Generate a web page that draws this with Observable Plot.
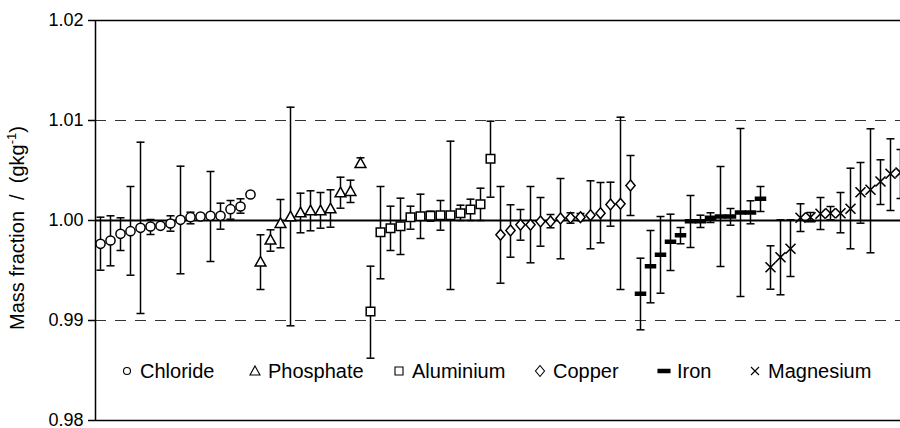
<!DOCTYPE html>
<html><head><meta charset="utf-8">
<script src="https://cdn.jsdelivr.net/npm/d3@7"></script>
<script src="https://cdn.jsdelivr.net/npm/@observablehq/plot@0.6"></script>
<style>
body{margin:0;background:#fff;}
#chart{width:900px;height:428px;}
</style></head><body><div id="chart"></div>
<script>
// ---- data (mass fraction, g/kg) ----
const chlorideValue = [0.99767,0.9980,0.99867,0.99893,0.99927,0.9994,0.99947,0.9997,1.00007,1.00033,1.0004,1.00047,1.00047,1.00113,1.0014,1.0026];
const chlorideHigh  = [1.00033,1.00047,1.00027,1.0034,1.00783,1.0001,null,1.00047,1.00543,1.00083,null,1.0049,1.00173,1.002,1.00217,null];
const chlorideLow   = [0.99503,0.99547,0.997,0.99453,0.9907,0.9986,null,0.99893,0.99467,0.99967,null,0.9959,0.99913,1.00013,1.00073,null];

const phosphateValue = [0.9958,0.998,0.99967,1.00033,1.00073,1.00093,1.00093,1.00113,1.00273,1.00287,1.00567];
const phosphateHigh  = [0.99857,0.99907,1.0021,1.01133,1.00273,1.00297,1.0028,1.00307,1.00433,1.00403,1.00627];
const phosphateLow   = [0.9931,0.99693,0.99727,0.98947,0.99877,0.99897,0.99923,0.99933,1.00123,1.0018,1.0054];

const aluminiumValue = [0.9909,0.99883,0.99923,0.99943,1.00033,1.00043,1.00047,1.00053,1.00053,1.00073,1.0011,1.00163,1.00617];
const aluminiumHigh  = [0.99543,1.0034,1.00143,1.00223,1.00143,1.00263,1.00093,1.002,1.00793,1.00153,1.00213,1.00323,1.00993];
const aluminiumLow   = [0.98623,0.99417,0.997,0.9966,0.99913,0.9982,0.99993,0.99903,0.9931,1.0,1.0,1.0,1.00233];

const copperValue = [0.99857,0.999,0.99957,0.99957,0.9999,0.9999,1.0002,1.00027,1.00033,1.00053,1.00073,1.0016,1.00167,1.0035];
const copperHigh  = [1.0034,1.00157,1.0011,1.0034,1.0023,1.0006,1.0042,1.00077,1.0007,1.00397,1.0038,1.00383,1.01033,1.0065];
const copperLow   = [0.99373,0.99633,0.99803,0.99577,0.99743,0.99927,0.99617,0.99973,1.0,0.99717,0.99777,0.99943,0.9931,1.0005];

const ironValue = [0.99267,0.99543,0.99657,0.99787,0.99853,0.99993,0.99993,1.00027,1.0004,1.0004,1.0008,1.0008,1.00217];
const ironHigh  = [0.99623,0.999,1.0004,1.00063,0.9993,1.0025,1.00053,1.00077,1.0054,1.0012,1.0092,1.00197,1.0034];
const ironLow   = [0.98907,0.99177,0.99273,0.995,0.99767,0.9973,0.9993,0.9998,0.9954,0.99953,0.9924,0.99967,1.0009];

const magnesiumValue = [0.99533,0.99633,0.99717,1.00027,1.00033,1.00067,1.00073,1.00073,1.00117,1.00283,1.00307,1.0039,1.00467,1.0048];
const magnesiumHigh  = [0.99747,1.00007,1.00007,1.00167,1.0008,1.0023,1.0014,1.0028,1.00523,1.0058,1.00917,1.00607,1.00817,1.0071];
const magnesiumLow   = [0.99313,0.99257,0.9944,0.9989,0.99987,0.9991,1.00007,0.99877,0.99717,0.99973,0.99677,1.0016,1.001,1.0022];

const yTicks = [0.98, 0.99, 1.00, 1.01, 1.02];
const refDashed = [0.99, 1.01];
const refSolid = [1.00];

// ---- symbols ----
const sym = {
  circle:   {draw(c){ c.moveTo(4.6,0); c.arc(0,0,4.6,0,2*Math.PI); }},
  triangle: {draw(c){ c.moveTo(0,-6); c.lineTo(5.4,3.6); c.lineTo(-5.4,3.6); c.closePath(); }},
  square:   {draw(c){ c.rect(-4.3,-4.3,8.6,8.6); }},
  diamond:  {draw(c){ c.moveTo(0,-5.4); c.lineTo(4.6,0); c.lineTo(0,5.4); c.lineTo(-4.6,0); c.closePath(); }},
  dash:     {draw(c){ c.rect(-5,-1.5,10,3); }},
  times:    {draw(c){ c.moveTo(-5,-5); c.lineTo(5,5); c.moveTo(5,-5); c.lineTo(-5,5); }},
  cap:      {draw(c){ c.moveTo(-4,0); c.lineTo(4,0); }}
};

const series = [
  {name:"Chloride",  sym:"circle",   fill:"white", value:chlorideValue,  high:chlorideHigh,  low:chlorideLow},
  {name:"Phosphate", sym:"triangle", fill:"white", value:phosphateValue, high:phosphateHigh, low:phosphateLow},
  {name:"Aluminium", sym:"square",   fill:"white", value:aluminiumValue, high:aluminiumHigh, low:aluminiumLow},
  {name:"Copper",    sym:"diamond",  fill:"white", value:copperValue,    high:copperHigh,    low:copperLow},
  {name:"Iron",      sym:"dash",     fill:"black", value:ironValue,      high:ironHigh,      low:ironLow},
  {name:"Magnesium", sym:"times",    fill:"none",  value:magnesiumValue, high:magnesiumHigh, low:magnesiumLow}
];

const rows = [];
let idx = 0;
for (const s of series) {
  s.value.forEach((v, k) => rows.push({series: s.name, i: idx++, v, lo: s.low[k], hi: s.high[k]}));
}
const bars = rows.filter(d => d.hi != null);

const dotMarks = series.map(s => Plot.dot(rows.filter(d => d.series === s.name), {
  x: "i", y: "v", symbol: sym[s.sym], fill: s.fill, stroke: "black",
  strokeWidth: s.sym === "times" ? 1.6 : 1.5, clip: true
}));

const svg = Plot.plot({
  width: 900, height: 428,
  marginLeft: 95, marginRight: 0, marginTop: 20, marginBottom: 8,
  style: {fontFamily: "'Liberation Sans', Arial, sans-serif", fontSize: "18px", background: "white", color: "black"},
  x: {domain: [-0.5, 80], axis: null},
  y: {domain: [0.98, 1.02]},
  marks: [
    Plot.ruleY(refDashed, {stroke: "#333", strokeWidth: 1, strokeDasharray: "11,9"}),
    Plot.ruleY([0.98, 1.02], {stroke: "black", strokeWidth: 1.5}),
    Plot.ruleX(bars, {x: "i", y1: "lo", y2: "hi", stroke: "black", strokeWidth: 1.5, clip: true}),
    Plot.dot(bars, {x: "i", y: "hi", symbol: sym.cap, stroke: "black", strokeWidth: 1.5, clip: true}),
    Plot.dot(bars, {x: "i", y: "lo", symbol: sym.cap, stroke: "black", strokeWidth: 1.5, clip: true}),
    Plot.ruleY(refSolid, {stroke: "black", strokeWidth: 2}),
    ...dotMarks,
    Plot.axisY({ticks: yTicks, tickFormat: d3.format(".2f"), tickSize: 7, tickPadding: 5, label: null, strokeWidth: 1.5}),
    Plot.ruleX([-0.5], {stroke: "black", strokeWidth: 1.5})
  ]
});

// y-axis title
const root = d3.select(svg);
const yl = root.append("text")
  .attr("transform", "translate(24,228) rotate(-90)")
  .attr("text-anchor", "middle")
  .attr("font-size", 20)
  .attr("fill", "black")
  .style("white-space", "pre");
yl.append("tspan").text("Mass fraction  /  (gkg");
yl.append("tspan").attr("font-size", 13).attr("dy", -8).text("-1");
yl.append("tspan").attr("dy", 8).text(")");

// legend
const legend = [
  {name:"Chloride",  x:127, path:"M3.5,0A3.5,3.5,0,1,1,-3.5,0A3.5,3.5,0,1,1,3.5,0Z", fill:"white"},
  {name:"Phosphate", x:255, path:"M0,-5L5,4L-5,4Z", fill:"white"},
  {name:"Aluminium", x:399, path:"M-4,-4H4V4H-4Z", fill:"white"},
  {name:"Copper",    x:540, path:"M0,-5.5L4.5,0L0,5.5L-4.5,0Z", fill:"white"},
  {name:"Iron",      x:664, path:"M-6,-1.6H6V1.6H-6Z", fill:"black"},
  {name:"Magnesium", x:755, path:"M-4,-4L4,4M4,-4L-4,4", fill:"none"}
];
const lg = root.append("g").attr("font-size", 20).attr("fill", "black").attr("text-anchor", "start");
legend.forEach(d => {
  lg.append("path").attr("d", d.path).attr("transform", `translate(${d.x},371)`)
    .attr("fill", d.fill).attr("stroke", "black").attr("stroke-width", 1.1);
  lg.append("text").attr("x", d.x + 13).attr("y", 378).attr("text-anchor", "start").text(d.name);
});

document.getElementById("chart").appendChild(svg);
</script>
</body></html>
